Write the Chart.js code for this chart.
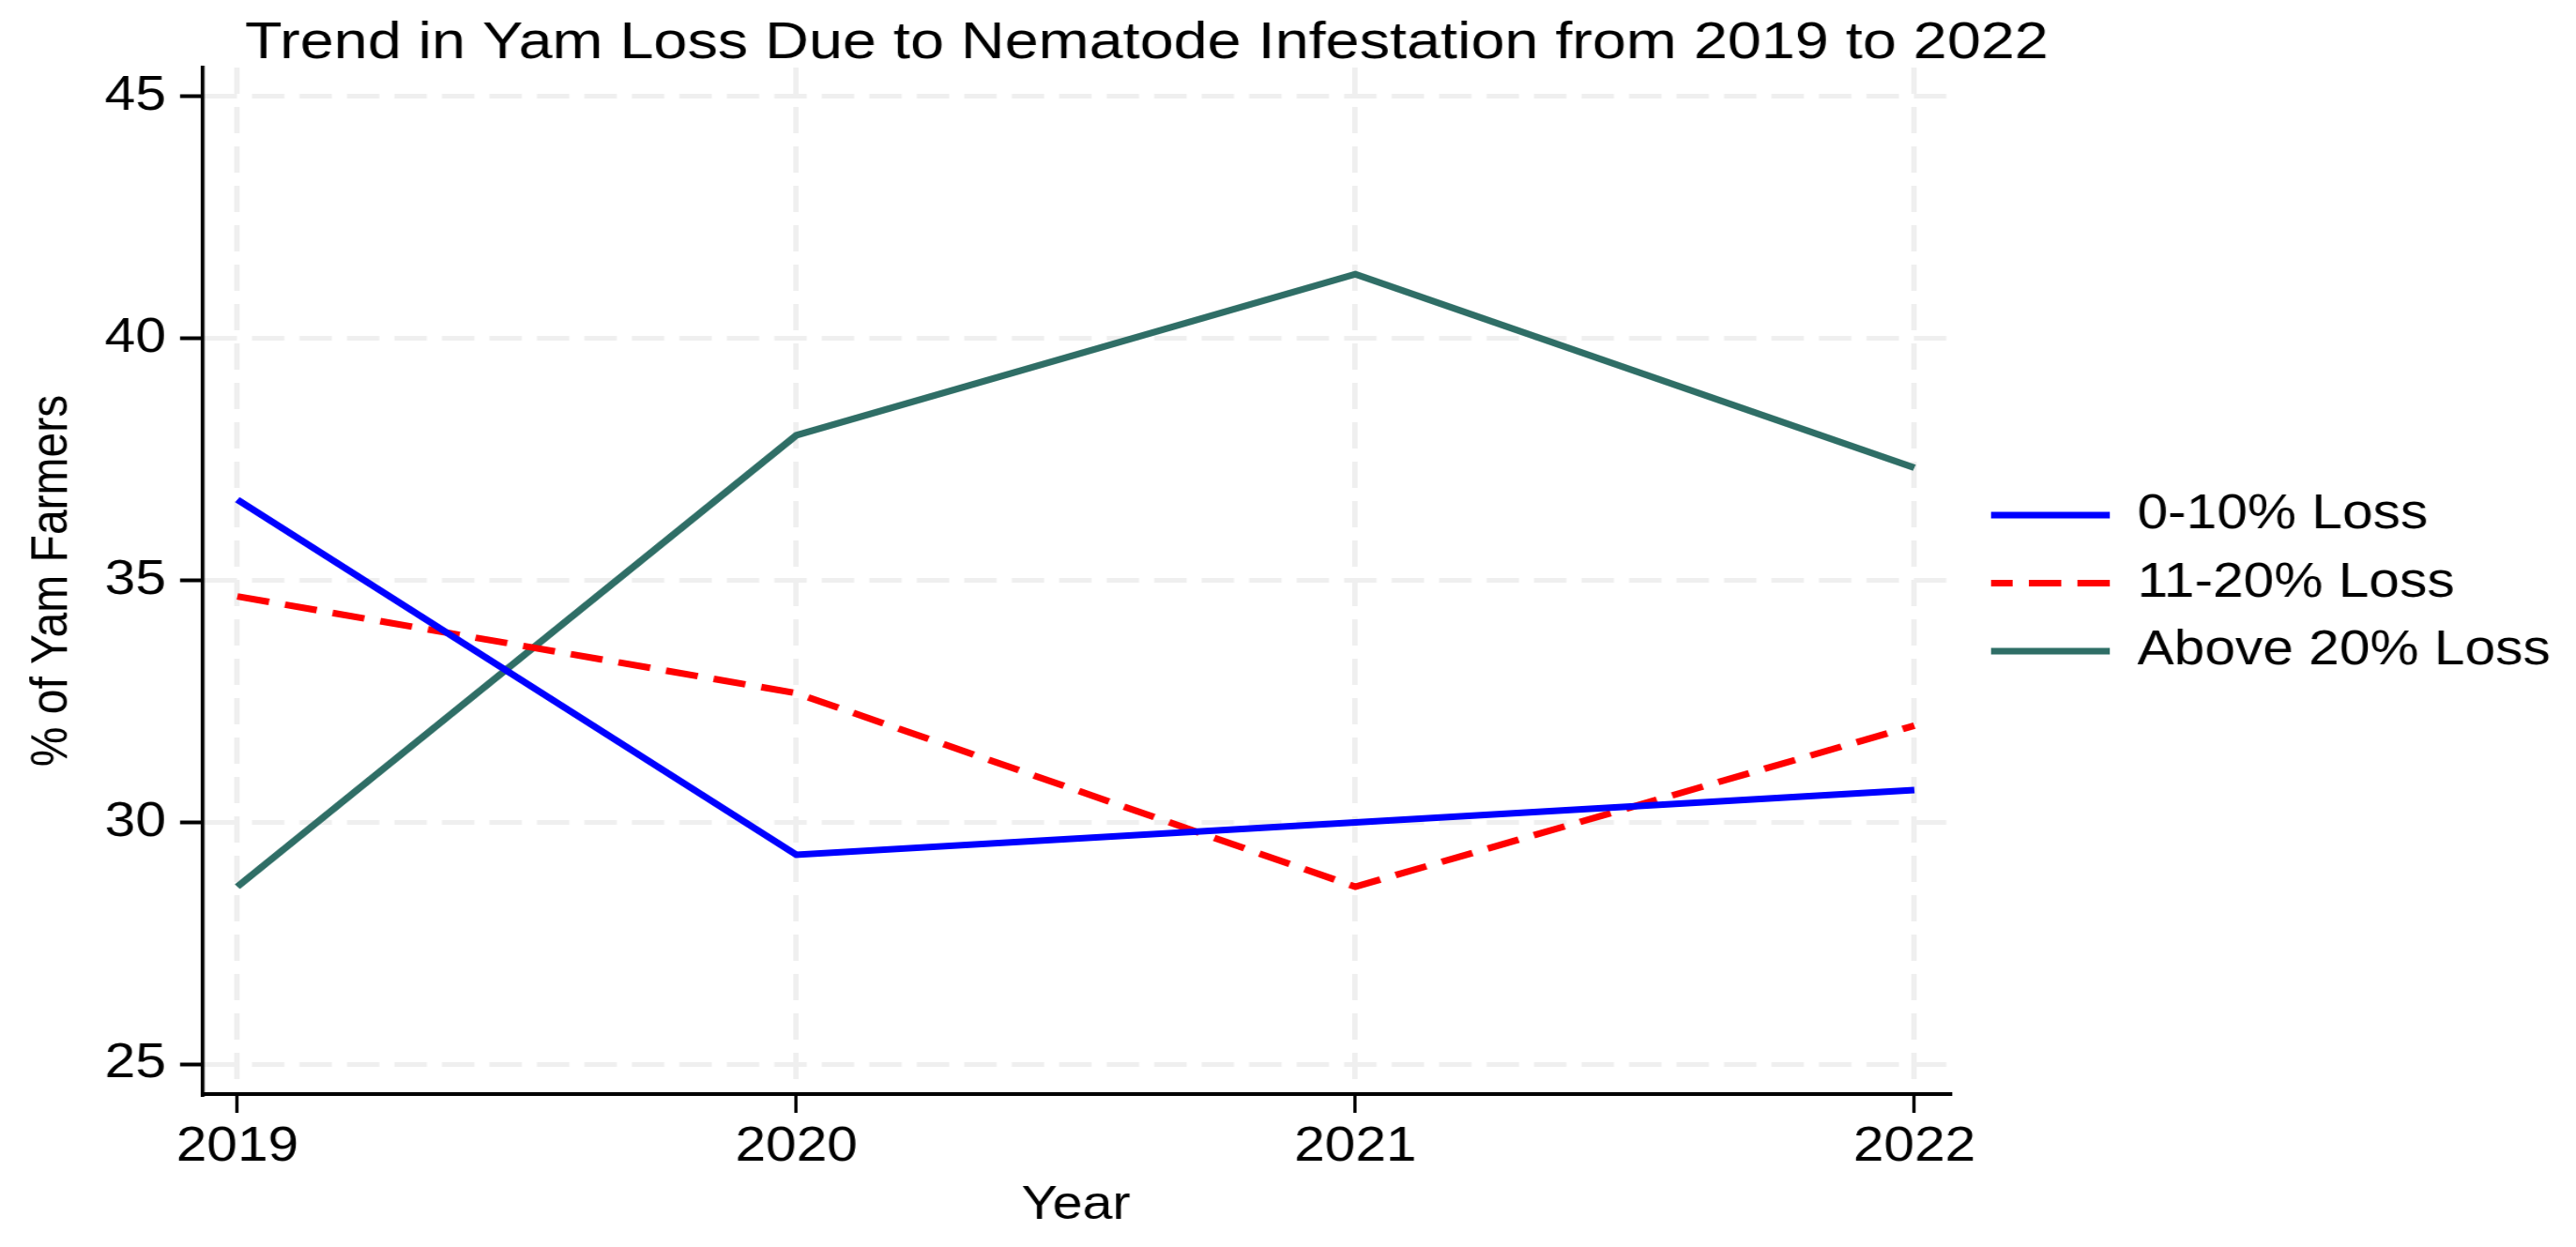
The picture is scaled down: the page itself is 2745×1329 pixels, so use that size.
<!DOCTYPE html>
<html><head><meta charset="utf-8">
<script src="https://cdn.jsdelivr.net/npm/chart.js@4/dist/chart.umd.min.js"></script>
<style>html,body{margin:0;padding:0;background:#fff;overflow:hidden}canvas{display:block}</style>
</head><body>
<canvas id="c" width="2387" height="1329" style="width:2745px;height:1329px"></canvas>
<script>
const years = [2019, 2020, 2021, 2022];
const loss0to10 = [36.67, 29.33, 30.00, 30.67];
const loss11to20 = [34.67, 32.67, 28.67, 32.00];
const lossAbove20 = [28.67, 38.00, 41.33, 37.33];
const seriesNames = ['0-10% Loss', '11-20% Loss', 'Above 20% Loss'];
const yTicks = [25, 30, 35, 40, 45];
const titleText = 'Trend in Yam Loss Due to Nematode Infestation from 2019 to 2022';
const xTitle = 'Year';
const yTitle = '% of Yam Farmers';

const FONT = '"Liberation Sans", Arial, Helvetica, sans-serif';
const W = 2387, H = 1329;
const AREA_L = 187.8, AREA_R = 1806, AREA_T = 72, AREA_B = 1166;
const LEG_FS = 51, LEG_PAD = 21.5, LEG_BOX = 110, LEG_X = 1845, LEG_ROW0 = 549;
const DASH = [30, 15];
const LW = 7;

const mc = document.createElement('canvas').getContext('2d');
mc.font = LEG_FS + 'px ' + FONT;
const maxText = Math.max(...seriesNames.map(s => mc.measureText(s).width));
const legendW = LEG_PAD + LEG_BOX + LEG_FS / 2 + maxText + 10;
const padR = Math.max(0, W - AREA_R - legendW);

const pts = arr => years.map((y, i) => ({x: y, y: arr[i]}));

const layoutPlugin = {
  id: 'stataTitle',
  beforeDraw(chart) {
    const lg = chart.legend;
    if (lg) {
      lg.left = LEG_X - LEG_PAD;
      lg.right = W;
      lg.width = W - lg.left;
      lg.top = LEG_ROW0 - LEG_FS / 2 - LEG_PAD;
      lg.bottom = H;
      lg.height = H - lg.top;
    }
  },
  afterDraw(chart) {
    const ctx = chart.ctx;
    ctx.save();
    ctx.font = '56.3px ' + FONT;
    ctx.fillStyle = '#000';
    ctx.textBaseline = 'alphabetic';
    ctx.textAlign = 'left';
    ctx.fillText(titleText, 227, 61.7);
    ctx.restore();
  }
};

new Chart(document.getElementById('c'), {
  type: 'line',
  data: {
    datasets: [
      {label: seriesNames[0], data: pts(loss0to10), borderColor: '#0000ff', backgroundColor: '#0000ff', borderWidth: LW, pointRadius: 0, tension: 0},
      {label: seriesNames[1], data: pts(loss11to20), borderColor: '#ff0000', backgroundColor: '#ff0000', borderWidth: LW, borderDash: DASH, pointRadius: 0, tension: 0},
      {label: seriesNames[2], data: pts(lossAbove20), borderColor: '#2f6e66', backgroundColor: '#2f6e66', borderWidth: LW, pointRadius: 0, tension: 0}
    ]
  },
  options: {
    responsive: false,
    animation: false,
    devicePixelRatio: 1,
    events: [],
    layout: {padding: {left: 0, top: AREA_T, right: padR, bottom: 0}},
    plugins: {
      title: {display: false},
      tooltip: {enabled: false},
      legend: {
        position: 'right',
        align: 'start',
        labels: {
          font: {family: FONT, size: LEG_FS},
          color: '#000',
          padding: LEG_PAD,
          usePointStyle: true,
          pointStyle: 'line',
          pointStyleWidth: LEG_BOX,
          boxHeight: LEG_FS,
          generateLabels(chart) {
            const items = Chart.defaults.plugins.legend.labels.generateLabels(chart);
            items.forEach((it, i) => {
              const ds = chart.data.datasets[i];
              it.pointStyle = 'line';
              it.lineWidth = LW;
              it.strokeStyle = ds.borderColor;
              const dash = ds.borderDash || [];
              it.lineDash = dash;
              if (dash.length) {
                const period = dash[0] + dash[1];
                const rem = LEG_BOX % period;
                it.lineDashOffset = rem < dash[0] ? dash[0] - rem : period - rem + dash[0];
              } else {
                it.lineDashOffset = 0;
              }
            });
            return items;
          }
        }
      }
    },
    scales: {
      x: {
        type: 'linear',
        min: 2018.938,
        max: 2022.062,
        afterFit(s) { s.height = H - AREA_B; },
        afterBuildTicks(s) { s.ticks = years.map(v => ({value: v})); },
        ticks: {
          font: {family: FONT, size: 51},
          color: '#000',
          padding: 6,
          maxRotation: 0,
          autoSkip: false,
          callback: v => String(v)
        },
        grid: {
          color: '#efefef',
          lineWidth: 5,
          tickLength: 20,
          tickColor: '#000',
          tickWidth: 3,
          tickBorderDash: []
        },
        border: {display: true, color: '#000', width: 4, dash: [28, 14]},
        title: {display: true, text: xTitle, color: '#000', font: {family: FONT, size: 50}, padding: {top: 0, bottom: 13.5}}
      },
      y: {
        type: 'linear',
        min: 24.385,
        max: 45.6,
        afterFit(s) { s.width = AREA_L; },
        afterBuildTicks(s) { s.ticks = yTicks.map(v => ({value: v})); },
        ticks: {
          font: {family: FONT, size: 51},
          color: '#000',
          padding: 13,
          autoSkip: false,
          callback: v => String(v)
        },
        grid: {
          color: '#efefef',
          lineWidth: 5,
          tickLength: 21,
          tickColor: '#000',
          tickWidth: 4,
          tickBorderDash: []
        },
        border: {display: true, color: '#000', width: 3.5, dash: [30, 14]},
        title: {display: true, text: yTitle, color: '#000', font: {family: FONT, size: 48}, padding: {top: 20, bottom: 0}}
      }
    }
  },
  plugins: [layoutPlugin]
});
</script>
</body></html>
